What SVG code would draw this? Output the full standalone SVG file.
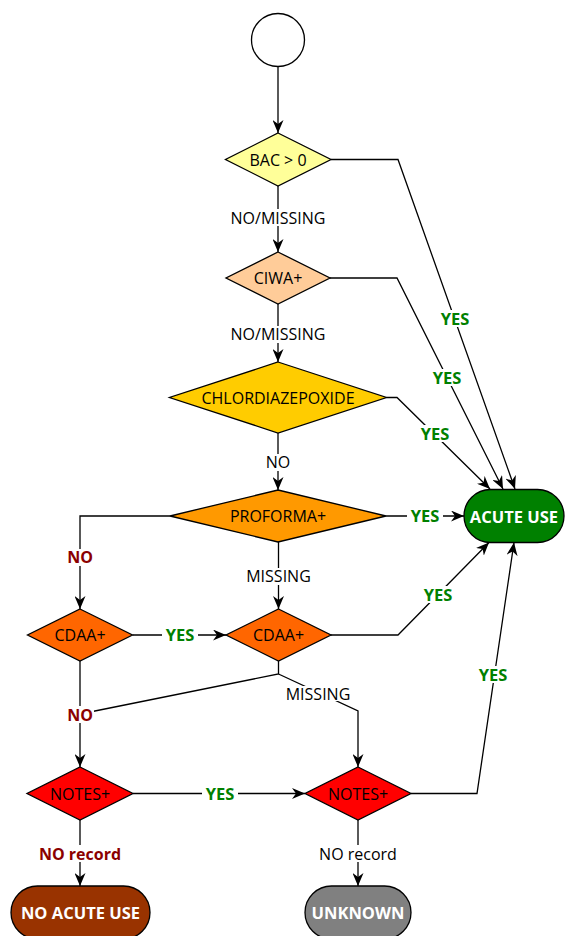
<svg xmlns="http://www.w3.org/2000/svg" width="565" height="936" viewBox="0 0 565 936">
<style>
.n{stroke:#000;stroke-width:1.3}
.t{font-family:"Open Sans",sans-serif;font-size:16px;text-anchor:middle;fill:#000}
.tw{font-family:"Open Sans",sans-serif;font-weight:bold;font-size:16.5px;text-anchor:middle;fill:#fff}
.e{fill:none;stroke:#000;stroke-width:1.3}
.lb{fill:#fff}
.l{font-family:"Open Sans",sans-serif;font-size:16px;text-anchor:middle;fill:#000}
.y{font-family:"Open Sans",sans-serif;font-weight:bold;font-size:16.5px;text-anchor:middle;fill:#008000}
.no{font-family:"Open Sans",sans-serif;font-weight:bold;font-size:16px;text-anchor:middle;fill:#8b0000}
</style>
<defs>
<marker id="a" viewBox="0 0 13 11" refX="13" refY="5.5" markerWidth="13" markerHeight="11" markerUnits="userSpaceOnUse" orient="auto">
<path d="M0,0 L13,5.5 L0,11 L4,5.5 z" fill="#000"/>
</marker>
</defs>
<rect width="565" height="936" fill="#fff"/>
<g id="connectors">
<path class="e" d="M278,66.5 L278,133" marker-end="url(#a)"/>
<path class="e" d="M278,186 L278,252" marker-end="url(#a)"/>
<path class="e" d="M278,304 L278,362" marker-end="url(#a)"/>
<path class="e" d="M278,433 L278,490" marker-end="url(#a)"/>
<path class="e" d="M170,516 L80,516 L80,609" marker-end="url(#a)"/>
<path class="e" d="M278.5,542 L278.5,609" marker-end="url(#a)"/>
<path class="e" d="M132.5,635 L226,635" marker-end="url(#a)"/>
<path class="e" d="M80,661 L80,767" marker-end="url(#a)"/>
<path class="e" d="M278.5,661 L278.5,674 L80,714"/>
<path class="e" d="M278.5,674 L358,711 L358,767" marker-end="url(#a)"/>
<path class="e" d="M133,793.5 L305,793.5" marker-end="url(#a)"/>
<path class="e" d="M80,820 L80,886" marker-end="url(#a)"/>
<path class="e" d="M358,820 L358,886" marker-end="url(#a)"/>
<path class="e" d="M331,159.5 L398,159.5 L515,489" marker-end="url(#a)"/>
<path class="e" d="M330,278 L397,278 L503,489" marker-end="url(#a)"/>
<path class="e" d="M386.5,397.5 L397,397.5 L490,489" marker-end="url(#a)"/>
<path class="e" d="M386,516 L464,516" marker-end="url(#a)"/>
<path class="e" d="M331,635 L398,635 L489,542.5" marker-end="url(#a)"/>
<path class="e" d="M411,793.5 L477,793.5 L514,542.5" marker-end="url(#a)"/>
</g>
<g id="labels">
<rect class="lb" x="229" y="209" width="98" height="17"/><text class="l" x="278" y="223.5">NO/MISSING</text>
<rect class="lb" x="229" y="326" width="98" height="17"/><text class="l" x="278" y="340">NO/MISSING</text>
<rect class="lb" x="264" y="454" width="28" height="17"/><text class="l" x="278" y="468">NO</text>
<rect class="lb" x="66" y="549" width="28" height="17"/><text class="no" x="80" y="563">NO</text>
<rect class="lb" x="244" y="568" width="69" height="17"/><text class="l" x="278.5" y="582">MISSING</text>
<rect class="lb" x="162" y="627" width="36" height="17"/><text class="y" x="180" y="641">YES</text>
<rect class="lb" x="66" y="706" width="28" height="17"/><text class="no" x="80" y="720.5">NO</text>
<rect class="lb" x="285" y="686" width="66" height="15"/><text class="l" x="318" y="699.5">MISSING</text>
<rect class="lb" x="202" y="785" width="36" height="17"/><text class="y" x="220" y="799.5">YES</text>
<rect class="lb" x="36" y="845" width="88" height="17"/><text class="no" x="80" y="859.5">NO record</text>
<rect class="lb" x="317" y="845" width="82" height="17"/><text class="l" x="358" y="859.5">NO record</text>
<rect class="lb" x="437" y="310" width="36" height="17"/><text class="y" x="455" y="325">YES</text>
<rect class="lb" x="429" y="369" width="36" height="17"/><text class="y" x="447" y="384">YES</text>
<rect class="lb" x="417" y="425" width="36" height="17"/><text class="y" x="435" y="440">YES</text>
<rect class="lb" x="407" y="507" width="36" height="17"/><text class="y" x="425" y="522">YES</text>
<rect class="lb" x="420" y="586" width="36" height="17"/><text class="y" x="438" y="601">YES</text>
<rect class="lb" x="475" y="666" width="36" height="17"/><text class="y" x="493" y="681">YES</text>
</g>
<g id="start"><circle class="n" cx="278" cy="40" r="26.5" fill="#fff"/></g>
<g id="bac"><polygon class="n" points="278,133 331,159.5 278,186 225.5,159.5" fill="#ffff99"/><text class="t" x="278" y="165.5">BAC &gt; 0</text></g>
<g id="ciwa"><polygon class="n" points="278,252 330,278 278,304 226,278" fill="#ffcc99"/><text class="t" x="278" y="284">CIWA+</text></g>
<g id="chlordiazepoxide"><polygon class="n" points="278,362 386.5,397.5 278,433 169.5,397.5" fill="#ffcc00"/><text class="t" x="278" y="403.5">CHLORDIAZEPOXIDE</text></g>
<g id="proforma"><polygon class="n" points="278,490 386,516 278,542 170,516" fill="#ff9900"/><text class="t" x="278" y="522">PROFORMA+</text></g>
<g id="cdaa1"><polygon class="n" points="80,609 132.5,635 80,661 27.5,635" fill="#ff6600"/><text class="t" x="80" y="641">CDAA+</text></g>
<g id="cdaa2"><polygon class="n" points="278.5,609 331,635 278.5,661 226,635" fill="#ff6600"/><text class="t" x="278.5" y="641">CDAA+</text></g>
<g id="notes1"><polygon class="n" points="80,767 133,793.5 80,820 27,793.5" fill="#ff0000"/><text class="t" x="80" y="799.5">NOTES+</text></g>
<g id="notes2"><polygon class="n" points="358,767 411,793.5 358,820 305,793.5" fill="#ff0000"/><text class="t" x="358" y="799.5">NOTES+</text></g>
<g id="acute"><rect class="n" x="464" y="489.5" width="100" height="53" rx="26.5" fill="#008000"/><text class="tw" x="514" y="522.5">ACUTE USE</text></g>
<g id="noacute"><rect class="n" x="11" y="886" width="139" height="53" rx="26.5" fill="#993300"/><text class="tw" x="80.5" y="918.5">NO ACUTE USE</text></g>
<g id="unknown"><rect class="n" x="305" y="886" width="106" height="53" rx="26.5" fill="#808080"/><text class="tw" x="358" y="918.5">UNKNOWN</text></g>
</svg>
